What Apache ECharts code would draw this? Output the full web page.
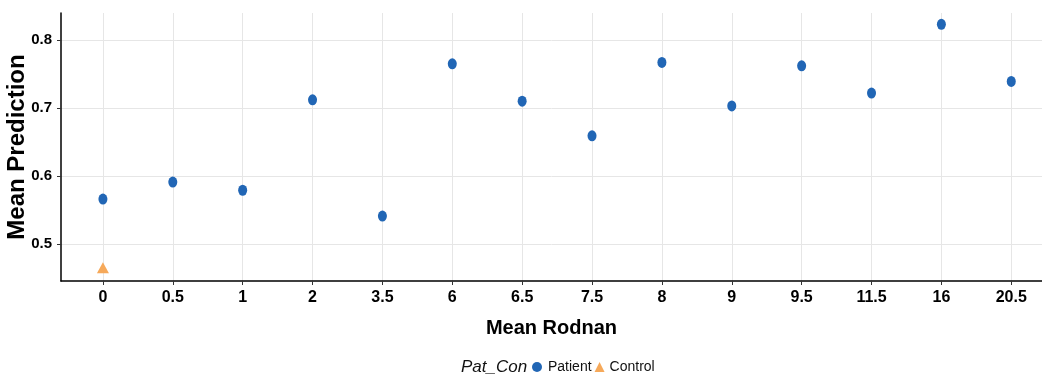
<!DOCTYPE html>
<html>
<head>
<meta charset="utf-8">
<script src="https://cdn.jsdelivr.net/npm/echarts@6/dist/echarts.min.js"></script>
<style>
html,body{margin:0;padding:0;background:#fff;}
#chart{width:1042px;height:378px;}
</style>
</head>
<body>
<div id="chart"></div>
<script>
// Categories (Mean Rodnan)
var categories = ['0','0.5','1','2','3.5','6','6.5','7.5','8','9','9.5','11.5','16','20.5'];
// Patient mean prediction per category
var patientValues = [0.566,0.591,0.579,0.712,0.541,0.765,0.710,0.659,0.767,0.703,0.762,0.722,0.823,0.739];
// Control: category and value
var controlCategory = ['0'];
var controlValues = [0.465];
// Y tick labels
var yTicks = [0.5,0.6,0.7,0.8];

var catIndex = categories.map(function(c,i){return i;});
var patientData = patientValues.map(function(v,i){return [i, v];});
var controlData = controlValues.map(function(v,i){return [categories.indexOf(controlCategory[i]), v];});

var FONT = '"Liberation Sans", Arial, Helvetica, sans-serif';
var chart = echarts.init(document.getElementById('chart'), null, {renderer:'canvas'});
chart.setOption({
  animation:false,
  backgroundColor:'#ffffff',
  title:{
    text:'Pat_Con', left:456, top:354,
    textStyle:{fontFamily:FONT, fontStyle:'italic', fontWeight:'normal', fontSize:17, color:'#111'}
  },
  legend:{
    left:527, top:355, itemWidth:10, itemHeight:10, itemGap:3,
    textStyle:{fontFamily:FONT, fontSize:14, color:'#111'},
    data:[
      {name:'Patient', icon:'circle', textStyle:{padding:[0,0,0,1]}},
      {name:'Control', icon:'triangle', textStyle:{padding:[0,0,0,0]}}
    ]
  },
  grid:{left:61, right:0, top:13, bottom:97, containLabel:false, outerBoundsMode:'none'},
  xAxis:{
    type:'value', min:-0.6, max:13.44,
    name:'Mean Rodnan', nameLocation:'middle', nameGap:37, nameMoveOverlap:false,
    nameTextStyle:{fontFamily:FONT, fontWeight:'bold', fontSize:20, color:'#000'},
    axisLine:{show:true, onZero:false, lineStyle:{color:'#000', width:1.5}},
    axisTick:{show:true, length:4, lineStyle:{color:'#333', width:1}, customValues:catIndex},
    axisLabel:{customValues:catIndex, margin:9, fontFamily:FONT, fontWeight:'bold', fontSize:16, color:'#000',
      formatter:function(v){return categories[Math.round(v)];}},
    splitLine:{show:true, lineStyle:{color:'#e6e6e6', width:1}}
  },
  yAxis:{
    type:'value', min:0.4455, max:0.8397,
    name:'Mean Prediction', nameLocation:'middle', nameGap:32, nameMoveOverlap:false,
    nameTextStyle:{fontFamily:FONT, fontWeight:'bold', fontSize:24, color:'#000'},
    axisLine:{show:true, onZero:false, lineStyle:{color:'#000', width:1.5}},
    axisTick:{show:true, length:4, lineStyle:{color:'#333', width:1}, customValues:yTicks},
    axisLabel:{customValues:yTicks, margin:9, fontFamily:FONT, fontWeight:'bold', fontSize:15, color:'#000',
      formatter:function(v){return v.toFixed(1);}},
    splitLine:{show:true, lineStyle:{color:'#e6e6e6', width:1}}
  },
  series:[
    {name:'Patient', type:'scatter', symbol:'circle', symbolSize:[9,11],
      itemStyle:{color:'#2166B5', opacity:1}, data:patientData, z:3},
    {name:'Control', type:'scatter', symbol:'triangle', symbolSize:[12,11],
      itemStyle:{color:'#F6A95A', opacity:1}, data:controlData, z:3}
  ]
});
</script>
</body>
</html>
